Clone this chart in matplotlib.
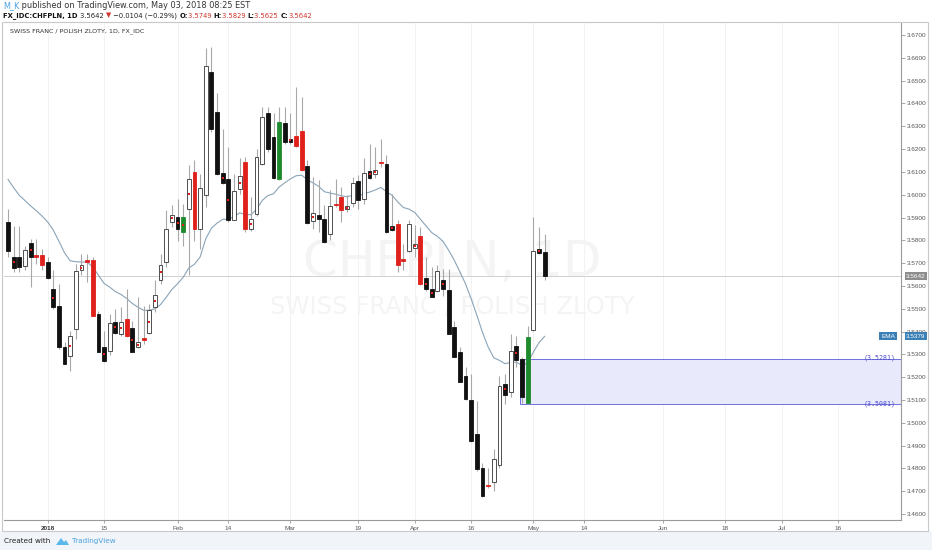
import matplotlib
matplotlib.use('Agg')
import matplotlib.pyplot as plt
from matplotlib.patches import Rectangle, Polygon
import numpy as np

W, H = 932, 550

# ---------------- data (bar index 0 = 2018-01-01, trading days) ----------------
bar_index = list(range(-7, 89))
opens = [
    3.5880, 3.5729, 3.5729, 3.5688, 3.5788, 3.5733, 3.5736, 3.5704, 3.5587, 3.5514,
    3.5331, 3.5294, 3.5411, 3.5668, 3.5712, 3.5715, 3.5477, 3.5331, 3.5316, 3.5444,
    3.5390, 3.5455, 3.5414, 3.5331, 3.5368, 3.5392, 3.5507, 3.5627, 3.5704, 3.5880,
    3.5902, 3.5836, 3.5939, 3.6100, 3.5851, 3.5997, 3.6539, 3.6363, 3.6095, 3.6070,
    3.5890, 3.6023, 3.6143, 3.5848, 3.5914, 3.6136, 3.6356, 3.6253, 3.6070, 3.6315,
    3.6246, 3.6256, 3.6280, 3.6124, 3.5883, 3.5909, 3.5892, 3.5829, 3.5959, 3.5990,
    3.5938, 3.5965, 3.6060, 3.5982, 3.6104, 3.6090, 3.6141, 3.6136, 3.5861, 3.5870,
    3.5719, 3.5752, 3.5767, 3.5821, 3.5634, 3.5587, 3.5580, 3.5627, 3.5583, 3.5422,
    3.5309, 3.5206, 3.5101, 3.4950, 3.4804, 3.4725, 3.4741, 3.4814, 3.5170, 3.5133,
    3.5338, 3.5281, 3.5085, 3.5407, 3.5763, 3.5749]
highs = [
    3.5939, 3.5861, 3.5861, 3.5777, 3.5807, 3.5807, 3.5763, 3.5726, 3.5668, 3.5609,
    3.5353, 3.5404, 3.5697, 3.5741, 3.5738, 3.5729, 3.5492, 3.5404, 3.5477, 3.5499,
    3.5507, 3.5587, 3.5448, 3.5551, 3.5514, 3.5521, 3.5624, 3.5741, 3.5931, 3.5953,
    3.5980, 3.5960, 3.6129, 3.6151, 3.6092, 3.6641, 3.6649, 3.6444, 3.6290, 3.6209,
    3.6092, 3.6163, 3.6166, 3.5990, 3.6202, 3.6385, 3.6385, 3.6356, 3.6385, 3.6385,
    3.6356, 3.6473, 3.6429, 3.6154, 3.6078, 3.6063, 3.5953, 3.6019, 3.6070, 3.6034,
    3.5997, 3.6078, 3.6085, 3.6162, 3.6221, 3.6209, 3.6246, 3.6173, 3.6004, 3.5887,
    3.5785, 3.5887, 3.5865, 3.5858, 3.5726, 3.5682, 3.5690, 3.5675, 3.5675, 3.5448,
    3.5331, 3.5243, 3.5214, 3.5096, 3.4825, 3.4804, 3.4884, 3.5206, 3.5214, 3.5389,
    3.5382, 3.5287, 3.5426, 3.5902, 3.5858, 3.5829]
lows = [
    3.5729, 3.5660, 3.5660, 3.5668, 3.5595, 3.5697, 3.5668, 3.5631, 3.5499, 3.5323,
    3.5256, 3.5228, 3.5367, 3.5646, 3.5616, 3.5468, 3.5309, 3.5265, 3.5299, 3.5390,
    3.5382, 3.5375, 3.5309, 3.5328, 3.5345, 3.5390, 3.5485, 3.5609, 3.5682, 3.5858,
    3.5799, 3.5777, 3.5646, 3.5799, 3.5763, 3.5946, 3.6275, 3.6085, 3.6048, 3.5880,
    3.5887, 3.6004, 3.5836, 3.5843, 3.5906, 3.6129, 3.6187, 3.6070, 3.6066, 3.6224,
    3.6224, 3.6209, 3.6104, 3.5873, 3.5851, 3.5836, 3.5789, 3.5802, 3.5946, 3.5880,
    3.5924, 3.5946, 3.5938, 3.5960, 3.6070, 3.6075, 3.6121, 3.5831, 3.5843, 3.5660,
    3.5668, 3.5748, 3.5726, 3.5606, 3.5580, 3.5550, 3.5572, 3.5558, 3.5389, 3.5287,
    3.5177, 3.5099, 3.4918, 3.4789, 3.4675, 3.4713, 3.4701, 3.4804, 3.5082, 3.5111,
    3.5243, 3.5085, 3.5081, 3.5404, 3.5740, 3.5625]
closes = [
    3.5755, 3.5679, 3.5682, 3.5758, 3.5729, 3.5729, 3.5690, 3.5634, 3.5507, 3.5331,
    3.5258, 3.5382, 3.5665, 3.5690, 3.5707, 3.5470, 3.5312, 3.5270, 3.5438, 3.5392,
    3.5441, 3.5381, 3.5312, 3.5353, 3.5364, 3.5495, 3.5562, 3.5693, 3.5851, 3.5912,
    3.5848, 3.5902, 3.6070, 3.5851, 3.6029, 3.6564, 3.6290, 3.6092, 3.6053, 3.5887,
    3.6016, 3.6080, 3.5851, 3.5895, 3.6166, 3.6341, 3.6201, 3.6075, 3.6318, 3.6231,
    3.6231, 3.6212, 3.6107, 3.5876, 3.5919, 3.5895, 3.5792, 3.5949, 3.5955, 3.5931,
    3.5949, 3.6053, 3.5975, 3.6097, 3.6075, 3.6110, 3.6137, 3.5836, 3.5846, 3.5692,
    3.5711, 3.5873, 3.5785, 3.5609, 3.5587, 3.5553, 3.5665, 3.5587, 3.5389, 3.5290,
    3.5180, 3.5104, 3.4921, 3.4796, 3.4679, 3.4721, 3.4840, 3.5162, 3.5123, 3.5316,
    3.5277, 3.5111, 3.5378, 3.5752, 3.5746, 3.5642]
# candle colour category: k = black, w = hollow, r = red, g = green
kinds = ("kkkwkrrkkk" "kwwwrrkkwk" "wrkwrwwwww" "kgwrwwkkkk" "wwrwwwkkgk"
         "krrkwkkwrr" "wwkwkwrkkr" "rwwrkkwkkk" "kkkkkrwwkw" "kkgwkk")
dots = [0, 1, 0, 0, 1, 0, 0, 0, 1, 0,
        0, 1, 0, 1, 0, 0, 0, 1, 0, 1,
        1, 0, 1, 1, 0, 1, 1, 1, 0, 1,
        1, 1, 1, 0, 0, 0, 0, 0, 1, 1,
        0, 1, 0, 1, 0, 0, 0, 0, 0, 0,
        1, 0, 0, 0, 1, 0, 0, 0, 0, 0,
        1, 0, 0, 0, 1, 1, 0, 0, 1, 0,
        0, 0, 1, 0, 1, 1, 0, 1, 0, 0,
        0, 0, 0, 0, 0, 0, 0, 0, 1, 0,
        1, 0, 0, 0, 1, 0]
ema_period = 20
ema_seed = 3.6067

tick_idx = [0, 10, 23, 32, 43, 55, 65, 75, 86, 95, 109, 120, 130, 140]
tick_lbl = ['2018', '15', 'Feb', '14', 'Mar', '19', 'Apr', '16', 'May', '14', 'Jun', '18', 'Jul', '16']

zone_start = 84
zone_top = 3.5281
zone_bottom = 3.5081

# ---------------- figure ----------------
fig = plt.figure(figsize=(W / 100, H / 100), dpi=100)
fig.patch.set_facecolor('white')

def fx(x):
    return x / W

def fy(y):
    return 1 - y / H

# footer background
fig.patches.append(Rectangle((0, 0), 1, fy(531), transform=fig.transFigure,
                             facecolor='#f1f4f8', edgecolor='none', zorder=0))
# outer panel border
fig.patches.append(Rectangle((fx(2), fy(531)), fx(928) - fx(2), fy(22) - fy(531),
                             transform=fig.transFigure, facecolor='none',
                             edgecolor='#c8c8c8', linewidth=0.8, zorder=1))

ax = fig.add_axes([fx(4), fy(520), fx(901) - fx(4), fy(22.7) - fy(520)])
ax.set_xlim(-7.72, 151.1)
ax.set_ylim(3.4574, 3.6754)
ax.set_facecolor('white')
for s in ['top', 'left']:
    ax.spines[s].set_visible(False)
for s in ['right', 'bottom']:
    ax.spines[s].set_color('#9a9a9a')
    ax.spines[s].set_linewidth(0.8)

# grid
for t in tick_idx:
    ax.axvline(t, color='#f0f0f0', linewidth=0.6, zorder=0.2)

# watermark
ax.text(fx(452), fy(262), 'CHFPLN, 1D', transform=fig.transFigure, ha='center', va='center',
        fontsize=36, color='#f4f4f4', family='DejaVu Sans', zorder=0.5)
ax.text(fx(452), fy(306), 'SWISS FRANC / POLISH ZLOTY', transform=fig.transFigure, ha='center',
        va='center', fontsize=17.5, color='#f4f4f4', family='DejaVu Sans', zorder=0.5)

# last price line
last_close = closes[-1]
ax.axhline(last_close, color='#d0d0d0', linewidth=0.7, zorder=0.8)

# zone box
ax.add_patch(Rectangle((zone_start - 0.35, zone_bottom), 151.1 - (zone_start - 0.35),
                       zone_top - zone_bottom, facecolor='#e9e9fc', edgecolor='#7070e0',
                       linewidth=0.7, zorder=1))

# EMA
alpha = 2.0 / (ema_period + 1)
ema = [ema_seed]
for c in closes[1:]:
    ema.append(ema[-1] + alpha * (c - ema[-1]))
ax.plot(bar_index, ema, color='#8aa4b8', linewidth=0.8, zorder=1.5)

# candles
face_map = {'k': '#111111', 'w': 'white', 'r': '#e0201b', 'g': '#1e8a2e'}
edge_map = {'k': '#111111', 'w': '#333333', 'r': '#e0201b', 'g': '#1e8a2e'}
x = np.array(bar_index)
o = np.array(opens); h = np.array(highs); l = np.array(lows); c = np.array(closes)
ax.vlines(x, l, h, color='#a8a8a8', linewidth=0.8, zorder=2)
bottoms = np.minimum(o, c)
heights = np.maximum(np.abs(c - o), 0.0006)
faces = [face_map[k] for k in kinds]
edges = [edge_map[k] for k in kinds]
ax.bar(x, heights, bottom=bottoms, width=0.68, color=faces, edgecolor=edges,
       linewidth=0.6, zorder=3)
mids = (o + c) / 2
dx = [xi for xi, d in zip(x, dots) if d]
dy = [m for m, d in zip(mids, dots) if d]
ax.scatter(dx, dy, marker='s', s=2.2, color='#e0201b', linewidths=0, zorder=4)

# axes ticks
ax.yaxis.tick_right()
yt = np.round(np.arange(3.46, 3.6701, 0.01), 4)
ax.set_yticks(yt)
ax.set_yticklabels(['%.4f' % v for v in yt])
ax.tick_params(axis='y', which='both', length=3, width=0.6, color='#9a9a9a',
               labelsize=4.6, labelcolor='#555555', pad=1.5)
for lab in ax.get_yticklabels():
    lab.set_family('Liberation Sans')
ax.set_xticks(tick_idx)
ax.set_xticklabels(tick_lbl)
ax.tick_params(axis='x', length=2, width=0.6, color='#9a9a9a', labelsize=4.6,
               labelcolor='#555555', pad=2)
for lab in ax.get_xticklabels():
    lab.set_family('Liberation Sans')
    if lab.get_text() == '2018':
        lab.set_fontweight('bold')
        lab.set_color('#333333')

# zone labels
ax.text(fx(896), fy(357.5), '(%.4f)' % zone_top, transform=fig.transFigure, ha='right',
        va='center', fontsize=4.8, color='#4a4ad0', family='DejaVu Sans Mono', zorder=5)
ax.text(fx(896), fy(403.5), '(%.4f)' % zone_bottom, transform=fig.transFigure, ha='right',
        va='center', fontsize=4.8, color='#4a4ad0', family='DejaVu Sans Mono', zorder=5)

# price boxes on the right axis
def axis_box(value, bg, y_data):
    ypix = ax.transData.transform((0, y_data))[1]
    yf = ypix / fig.dpi / fig.get_size_inches()[1]
    fig.text(fx(916), yf, '%.4f' % value,
             ha='center', va='center', fontsize=4.6, color='white', family='Liberation Sans',
             bbox=dict(boxstyle='square,pad=0.25', facecolor=bg, edgecolor='none'), zorder=6)
    return yf

axis_box(last_close, '#8c8c8c', last_close)
ey = axis_box(ema[-1], '#3a7fb5', ema[-1])
fig.text(fx(888), ey, 'EMA', ha='center', va='center', fontsize=4.6, color='white',
         family='Liberation Sans',
         bbox=dict(boxstyle='square,pad=0.25', facecolor='#3a7fb5', edgecolor='none'), zorder=6)

# chart title inside
fig.text(fx(10), fy(31.5), 'SWISS FRANC / POLISH ZLOTY, 1D, FX_IDC', ha='left', va='center',
         fontsize=4.6, color='#333333', family='DejaVu Sans')

# header lines built from pieces
renderer = fig.canvas.get_renderer()

def pieces(x0, ypix, parts, size):
    xp = x0
    for txt, col, wt in parts:
        t = fig.text(fx(xp), fy(ypix), txt, ha='left', va='center', fontsize=size, color=col,
                     fontweight=wt, family=['DejaVu Sans'])
        bb = t.get_window_extent(renderer=renderer)
        xp += bb.width

prev_close = closes[-2]
chg = last_close - prev_close
pct = chg / prev_close * 100
pieces(3, 6, [('M_K', '#4aa3df', 'normal'),
              (' published on TradingView.com, May 03, 2018 08:25 EST', '#333333', 'normal')], 5.9)
red = '#d0342c'
pieces(3, 15.5, [('FX_IDC:CHFPLN, 1D ', '#111111', 'bold'),
                 ('%.4f ' % last_close, '#222222', 'normal'),
                 ('\u25bc', red, 'normal'),
                 (' \u2212%.4f (\u2212%.2f%%) ' % (abs(chg), abs(pct)), '#222222', 'normal'),
                 ('O:', '#111111', 'bold'), ('%.4f ' % opens[-1], red, 'normal'),
                 ('H:', '#111111', 'bold'), ('%.4f ' % highs[-1], red, 'normal'),
                 ('L:', '#111111', 'bold'), ('%.4f ' % lows[-1], red, 'normal'),
                 ('C:', '#111111', 'bold'), ('%.4f' % last_close, red, 'normal')], 4.9)

# footer
fig.text(fx(4), fy(541), 'Created with', ha='left', va='center', fontsize=5.2, color='#222222',
         family='DejaVu Sans')
logo1 = Polygon([[fx(56), fy(545)], [fx(61), fy(538)], [fx(64), fy(542)], [fx(66), fy(540)],
                 [fx(69), fy(545)]], closed=True, transform=fig.transFigure,
                facecolor='#5cb8ea', edgecolor='none')
fig.patches.append(logo1)
fig.text(fx(72), fy(541), 'TradingView', ha='left', va='center', fontsize=5.2, color='#4aa3df',
         family='DejaVu Sans')

fig.savefig('out.png', dpi=100)
